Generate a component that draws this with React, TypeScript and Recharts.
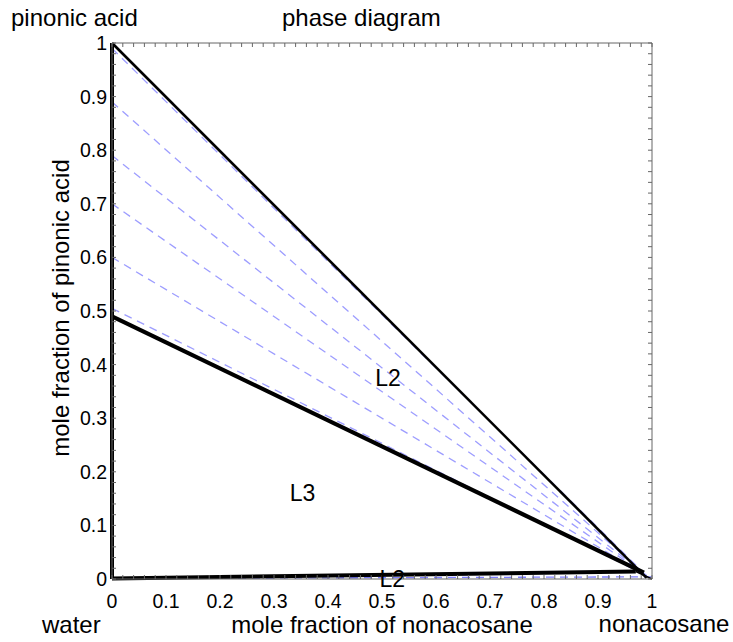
import React from "react";
import { ComposedChart, Line, XAxis, YAxis, ReferenceDot } from "recharts";

const FONT = '"Liberation Sans", Arial, Helvetica, sans-serif';

// axis ticks (mole fraction)
const majorTicks = [0, 0.1, 0.2, 0.3, 0.4, 0.5, 0.6, 0.7, 0.8, 0.9, 1];
const minorTicks = Array.from({ length: 51 }, (_, i) => i / 50);

// phase boundaries
const waterEdge = [
  { x: 0, y: 0 },
  { x: 0, y: 1 },
];
const upperBoundary = [
  { x: 0, y: 1 },
  { x: 0.99, y: 0.002 },
];
const threePhaseTop = [
  { x: 0, y: 0.49 },
  { x: 0.985, y: 0.012 },
];
const bottomBoundary = [
  { x: 0, y: 0.001 },
  { x: 0.97, y: 0.014 },
];
const cornerEdge = [
  { x: 0.97, y: 0.014 },
  { x: 1, y: 0 },
];

// tie lines: start on the pinonic acid axis, meet near the nonacosane corner
const tieStarts = [0.99, 0.89, 0.79, 0.7, 0.6, 0.505];
const tieEnd = { x: 0.99, y: 0.006 };
const bottomTieStarts = [0.001];
const bottomTieEnd = { x: 1, y: 0.004 };

const regionLabels = [
  { name: "L2", x: 0.511, y: 0.376 },
  { name: "L3", x: 0.353, y: 0.161 },
  { name: "L2", x: 0.519, y: 0.0 },
];

const tieLines = tieStarts.map((y0) => [{ x: 0, y: y0 }, tieEnd]);
const bottomTies = bottomTieStarts.map((y0) => [{ x: 0, y: y0 }, bottomTieEnd]);

const XTitle = (props: any) => {
  const { x = 0, y = 0, width = 0 } = props.viewBox || {};
  return (
    <g fontFamily={FONT} fontSize={24} fill="#000">
      <text x={x - 70} y={y + 54}>water</text>
      <text x={x + width / 2} y={y + 54} textAnchor="middle">
        mole fraction of nonacosane
      </text>
      <text x={x + width + 12} y={y + 53} textAnchor="middle">
        nonacosane
      </text>
    </g>
  );
};

const TopTitle = (props: any) => {
  const { x = 0, y = 0 } = props.viewBox || {};
  return (
    <g fontFamily={FONT} fontSize={24} fill="#000">
      <text x={x - 101} y={y - 17}>pinonic acid</text>
      <text x={x + 170} y={y - 17}>phase diagram</text>
    </g>
  );
};

const YTitle = (props: any) => {
  const { x = 0, y = 0, height = 0 } = props.viewBox || {};
  const cx = x + 17;
  const cy = y + height / 2 - 3;
  return (
    <text
      x={cx}
      y={cy}
      transform={`rotate(-90, ${cx}, ${cy})`}
      textAnchor="middle"
      fontFamily={FONT}
      fontSize={24}
      fill="#000"
    >
      mole fraction of pinonic acid
    </text>
  );
};

const RegionLabel = (text: string) => (props: any) => {
  const { x = 0, y = 0, width = 0, height = 0 } = props.viewBox || {};
  return (
    <text
      x={x + width / 2}
      y={y + height / 2}
      dy="0.36em"
      textAnchor="middle"
      fontFamily={FONT}
      fontSize={23}
      fill="#000"
    >
      {text}
    </text>
  );
};

const blank = () => "";

// thin frame axes: 1px so they still render, ticks pointing inward
const frameAxis = {
  type: "number" as const,
  domain: [0, 1],
  allowDataOverflow: true,
  ticks: minorTicks,
  interval: 0 as const,
  mirror: true,
  tickSize: 4,
  tickFormatter: blank,
  stroke: "#666",
};

export default function App() {
  return (
    <div style={{ position: "absolute", left: 0, top: 0, width: 733, height: 642 }}>
      <ComposedChart
        width={733}
        height={642}
        margin={{ top: 43, right: 81, bottom: 33, left: 52 }}
      >
        <XAxis xAxisId="minorBottom" dataKey="x" orientation="bottom" height={1} {...frameAxis} />
        <XAxis xAxisId="top" dataKey="x" orientation="top" height={1} {...frameAxis} label={TopTitle} />
        <YAxis yAxisId="minorLeft" orientation="left" width={1} {...frameAxis} />
        <YAxis yAxisId="right" orientation="right" width={1} {...frameAxis} />

        <XAxis
          type="number"
          dataKey="x"
          domain={[0, 1]}
          ticks={majorTicks}
          interval={0}
          height={30}
          tickLine={false}
          axisLine={false}
          tickSize={5}
          tickMargin={10}
          tick={{ fill: "#000", fontSize: 19.5, fontFamily: FONT }}
          label={XTitle}
        />
        <YAxis
          type="number"
          domain={[0, 1]}
          ticks={majorTicks}
          interval={0}
          width={60}
          tickLine={false}
          axisLine={false}
          tickSize={3}
          tickMargin={2}
          tick={{ fill: "#000", fontSize: 19.5, fontFamily: FONT }}
          label={YTitle}
        />

        {tieLines.map((d, i) => (
          <Line
            key={`tie${i}`}
            data={d}
            dataKey="y"
            stroke="#9d9dff"
            strokeWidth={1.3}
            strokeDasharray="8 6"
            dot={false}
            activeDot={false}
            legendType="none"
            isAnimationActive={false}
          />
        ))}
        {bottomTies.map((d, i) => (
          <Line
            key={`btie${i}`}
            data={d}
            dataKey="y"
            stroke="#7f7fff"
            strokeWidth={1.3}
            strokeDasharray="8 6"
            dot={false}
            activeDot={false}
            legendType="none"
            isAnimationActive={false}
          />
        ))}

        <Line data={upperBoundary} dataKey="y" stroke="#000" strokeWidth={2.6} dot={false} activeDot={false} isAnimationActive={false} />
        <Line data={threePhaseTop} dataKey="y" stroke="#000" strokeWidth={4.2} dot={false} activeDot={false} isAnimationActive={false} />
        <Line data={bottomBoundary} dataKey="y" stroke="#000" strokeWidth={4} dot={false} activeDot={false} isAnimationActive={false} />
        <Line data={cornerEdge} dataKey="y" stroke="#000" strokeWidth={1.5} dot={false} activeDot={false} isAnimationActive={false} />
        <Line data={waterEdge} dataKey="y" stroke="#000" strokeWidth={4} dot={false} activeDot={false} isAnimationActive={false} />

        {regionLabels.map((r, i) => (
          <ReferenceDot
            key={`lab${i}`}
            x={r.x}
            y={r.y}
            r={0}
            stroke="none"
            fill="none"
            label={RegionLabel(r.name)}
          />
        ))}
      </ComposedChart>
    </div>
  );
}
